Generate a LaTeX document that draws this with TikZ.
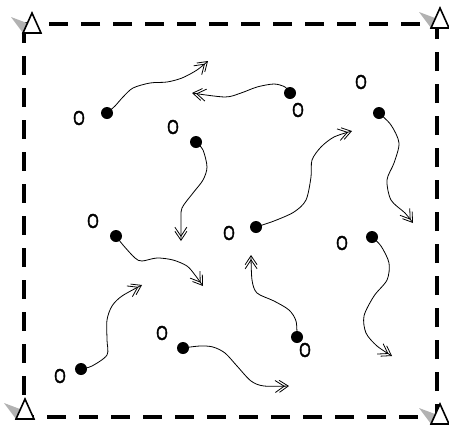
\documentclass[tikz,border=0pt]{standalone}
\usepackage{fontspec}
\usetikzlibrary{arrows.meta}
\newfontfamily\plrfont{Liberation Sans}[FakeBold=2]

\begin{document}
\begin{tikzpicture}[x=1pt,y=-1pt,
  player/.style={inner sep=0pt,font=\plrfont,xscale=1.5,yscale=2},
  ball/.style={circle,fill=black,inner sep=0pt,minimum size=12pt},
  dribble/.style={line width=0.8pt,
    -{Straight Barb[length=9pt,width=12pt,sep=-6pt]Straight Barb[length=9pt,width=12pt]}},
  field/.style={line width=3.5pt,dash pattern=on 19pt off 13pt},
  cone/.pic={
    \fill[gray!60] (-9,0) -- (-21,-16) -- (-5,-10) -- cycle;
    \draw[line width=1.6pt,fill=white] (-9,0) -- (0,-20) -- (9,0) -- cycle;}]
  \useasboundingbox (0,0) rectangle (449,426);
  \draw[field] (24,24) rectangle (437,417);
  \pic at (32,33) {cone};
  \pic at (440,28) {cone};
  \pic at (25,419) {cone};
  \pic at (440,424) {cone};
  % players
  \node[player] (p1) at (79,118) {O};
  \node[player] (p2) at (173,127) {O};
  \node[player] (p3) at (298,110) {O};
  \node[player] (p4) at (361,82) {O};
  \node[player] (p5) at (93,221) {O};
  \node[player] (p6) at (229,233) {O};
  \node[player] (p7) at (342,243) {O};
  \node[player] (p8) at (60,376) {O};
  \node[player] (p9) at (162,333) {O};
  \node[player] (p10) at (305,350) {O};
  % balls
  \node[ball] (b1) at (107,113) {};
  \node[ball] (b2) at (196,142) {};
  \node[ball] (b3) at (290,93) {};
  \node[ball] (b4) at (379,113) {};
  \node[ball] (b5) at (116,236) {};
  \node[ball] (b6) at (256,227) {};
  \node[ball] (b7) at (372,237) {};
  \node[ball] (b8) at (81,369) {};
  \node[ball] (b9) at (183,348) {};
  \node[ball] (b10) at (297,337) {};
  % dribble ends
  \coordinate (e1) at (208,61);
  \coordinate (e2) at (181,241);
  \coordinate (e3) at (192,93);
  \coordinate (e4) at (413,223);
  \coordinate (e5) at (203,286);
  \coordinate (e6) at (352,131);
  \coordinate (e7) at (392,356);
  \coordinate (e8) at (142,285);
  \coordinate (e9) at (289,386);
  \coordinate (e10) at (251,255);
  \draw[dribble] plot[smooth] coordinates {(b1) (115,106) (123,97) (133,88) (150,83) (167,82) (182,78) (197,70) (e1)};
  \draw[dribble] plot[smooth] coordinates {(b2) (203,150) (207,167) (203,180) (193,193) (182,208) (181,222) (e2)};
  \draw[dribble] plot[smooth] coordinates {(b3) (285,87) (274,84) (257,87) (241,93) (225,97) (e3)};
  \draw[dribble] plot[smooth] coordinates {(b4) (391,125) (399,143) (394,163) (387,180) (391,200) (405,213) (e4)};
  \draw[dribble] plot[smooth] coordinates {(b5) (123,245) (135,258) (142,261) (157,258) (173,260) (187,266) (195,275) (e5)};
  \draw[dribble] plot[smooth] coordinates {(b6) (274,221) (294,212) (306,200) (311,177) (312,160) (321,147) (334,137) (e6)};
  \draw[dribble] plot[smooth] coordinates {(b7) (381,246) (389,263) (387,280) (374,296) (364,316) (366,333) (377,346) (e7)};
  \draw[dribble] plot[smooth] coordinates {(b8) (92,366) (107,355) (107,340) (107,320) (112,306) (122,296) (e8)};
  \draw[dribble] plot[smooth] coordinates {(b9) (200,346) (213,347) (225,353) (237,366) (251,381) (264,386) (e9)};
  \draw[dribble] plot[smooth] coordinates {(b10) (296,321) (289,310) (274,301) (257,293) (252,280) (e10)};
\end{tikzpicture}
\end{document}
